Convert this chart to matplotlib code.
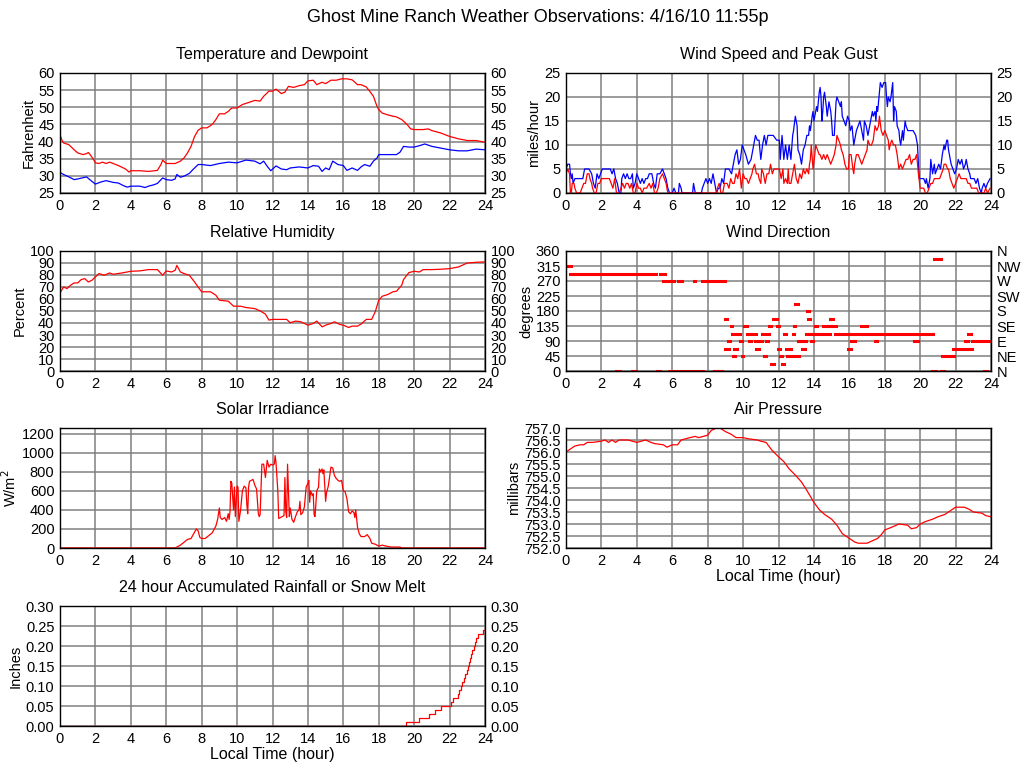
import matplotlib
matplotlib.use('Agg')
import matplotlib.pyplot as plt
import numpy as np

plt.rcParams['font.family'] = ['Liberation Sans', 'DejaVu Sans']
plt.rcParams['font.size'] = 10.5

# ---------------- data ----------------
temp_h = [0.0, 0.1, 0.2, 0.5, 0.8, 1.0, 1.3, 1.5, 1.6, 1.7, 1.9, 2.0, 2.2, 2.4, 2.6, 2.8, 3.0, 3.3,
          3.5, 3.7, 3.9, 4.0, 4.5, 5.0, 5.5, 5.7, 5.8, 6.0, 6.5, 6.8, 7.0, 7.2, 7.4, 7.6, 7.8, 8.0,
          8.3, 8.6, 8.8, 9.0, 9.3, 9.5, 9.7, 10.0, 10.3, 10.6, 11.0, 11.3, 11.5, 11.8, 12.0, 12.2,
          12.5, 12.7, 12.9, 13.2, 13.5, 13.8, 14.0, 14.3, 14.5, 14.8, 15.0, 15.3, 15.6, 15.9, 16.2,
          16.5, 16.8, 17.0, 17.3, 17.5, 17.7, 17.9, 18.0, 18.2, 18.5, 18.8, 19.0, 19.3, 19.6, 19.8,
          20.0, 20.5, 20.8, 21.0, 21.5, 22.0, 22.5, 23.0, 23.5, 24.0]
temp_f = [42.0, 40.5, 39.6, 39.1, 37.6, 36.7, 36.2, 36.5, 36.8, 36.2, 34.7, 33.8, 33.6, 34.0, 33.6,
          34.0, 33.6, 33.0, 32.5, 32.0, 31.1, 31.5, 31.5, 31.3, 31.6, 33.3, 34.6, 33.6, 33.6, 34.3,
          35.2, 36.7, 38.6, 41.5, 43.3, 44.0, 44.0, 45.0, 46.4, 48.1, 48.1, 48.8, 49.8, 49.8, 50.8,
          51.3, 52.0, 51.8, 53.2, 54.7, 54.7, 55.3, 54.0, 54.4, 56.1, 55.8, 56.3, 56.6, 57.7, 57.9,
          56.6, 57.3, 56.9, 57.9, 57.9, 58.3, 58.3, 58.0, 56.6, 56.6, 55.9, 54.6, 53.2, 50.3, 49.3,
          48.3, 47.8, 47.4, 47.2, 46.4, 45.0, 43.7, 43.5, 43.5, 43.7, 43.2, 42.5, 41.5, 40.8, 40.3,
          40.3, 39.8]

dew_h = [0.0, 0.2, 0.5, 0.8, 1.0, 1.5, 1.8, 2.0, 2.3, 2.6, 3.0, 3.3, 3.6, 3.8, 4.0, 4.5, 4.8, 5.0,
         5.3, 5.5, 5.8, 6.0, 6.3, 6.5, 6.6, 6.8, 7.0, 7.3, 7.5, 7.8, 8.0, 8.5, 9.0, 9.5, 10.0, 10.5,
         11.0, 11.3, 11.5, 11.7, 11.9, 12.2, 12.5, 12.8, 13.0, 13.5, 14.0, 14.3, 14.6, 14.8, 15.0,
         15.2, 15.4, 15.7, 16.0, 16.2, 16.5, 16.8, 17.0, 17.2, 17.5, 17.7, 17.9, 18.0, 18.5, 19.0,
         19.2, 19.4, 19.7, 20.0, 20.3, 20.6, 21.0, 21.5, 22.0, 22.5, 23.0, 23.5, 24.0]
dew_f = [31.0, 30.4, 29.7, 28.9, 29.1, 29.7, 28.4, 27.6, 28.2, 28.6, 28.1, 27.9, 27.1, 26.7, 27.0,
         27.0, 26.6, 27.0, 27.4, 27.8, 29.4, 28.9, 28.7, 29.1, 30.4, 29.6, 29.9, 30.7, 31.8, 33.3,
         33.3, 33.0, 33.6, 34.0, 33.8, 34.6, 34.3, 33.5, 34.3, 32.8, 31.5, 32.9, 32.0, 31.8, 32.3,
         32.6, 32.3, 33.0, 32.8, 31.3, 32.3, 31.8, 34.3, 33.3, 33.0, 31.6, 32.3, 31.6, 32.6, 33.3,
         32.8, 34.3, 35.2, 36.2, 36.2, 36.2, 36.9, 38.6, 38.4, 38.4, 38.8, 39.3, 38.6, 38.1, 37.6,
         37.3, 37.3, 37.8, 37.6]

gust_h = [0.0, 0.1, 0.2, 0.25, 0.3, 0.35, 0.4, 0.5, 0.6, 0.8, 0.95, 1.05, 1.3, 1.45, 1.55, 1.65,
          1.75, 1.85, 1.95, 2.05, 2.3, 2.5, 2.6, 2.7, 2.8, 2.9, 3.0, 3.1, 3.15, 3.25, 3.35, 3.45,
          3.55, 3.65, 3.75, 3.8, 3.9, 4.0, 4.1, 4.2, 4.3, 4.4, 4.5, 4.6, 4.7, 4.85, 4.95, 5.05,
          5.15, 5.3, 5.45, 5.55, 5.65, 5.75, 5.85, 6.0, 6.1, 6.2, 6.35, 6.4, 6.5, 6.55, 7.15, 7.2,
          7.3, 7.65, 7.7, 7.8, 7.9, 8.0, 8.1, 8.2, 8.3, 8.4, 8.5, 8.6, 8.7, 8.8, 8.9, 9.0, 9.2,
          9.35, 9.45, 9.55, 9.65, 9.75, 9.85, 9.95, 10.05, 10.15, 10.3, 10.45, 10.55, 10.7, 10.8,
          10.9, 11.0, 11.1, 11.2, 11.3, 11.4, 11.5, 11.7, 11.9, 12.05, 12.1, 12.2, 12.3, 12.4,
          12.5, 12.6, 12.7, 12.8, 12.85, 12.95, 13.05, 13.1, 13.2, 13.3, 13.4, 13.5, 13.6, 13.7,
          13.75, 13.8, 13.9, 13.95, 14.0, 14.1, 14.15, 14.2, 14.3, 14.35, 14.4, 14.45, 14.5, 14.55,
          14.6, 14.7, 14.75, 14.85, 14.95, 15.0, 15.05, 15.15, 15.25, 15.3, 15.4, 15.5, 15.55,
          15.6, 15.7, 15.8, 15.9, 16.0, 16.05, 16.15, 16.25, 16.3, 16.4, 16.5, 16.6, 16.7, 16.8,
          16.85, 16.95, 17.05, 17.15, 17.3, 17.35, 17.45, 17.5, 17.55, 17.6, 17.7, 17.75, 17.85,
          17.95, 18.05, 18.1, 18.15, 18.2, 18.3, 18.35, 18.45, 18.5, 18.55, 18.65, 18.7, 18.8,
          18.85, 18.9, 19.0, 19.05, 19.15, 19.2, 19.3, 19.45, 19.6, 19.75, 19.85, 19.9, 19.95,
          20.05, 20.2, 20.3, 20.35, 20.45, 20.55, 20.6, 20.7, 20.8, 20.85, 20.95, 21.05, 21.15,
          21.25, 21.35, 21.4, 21.5, 21.55, 21.6, 21.7, 21.75, 21.85, 21.95, 22.05, 22.15, 22.25,
          22.35, 22.45, 22.55, 22.6, 22.7, 22.8, 22.85, 22.95, 23.05, 23.15, 23.25, 23.35, 23.45,
          23.5, 23.6, 23.7, 23.8, 23.95]
gust_mph = [5, 6, 6, 4, 3, 4, 2, 3, 3, 3, 3, 5, 5, 4, 2, 1, 4, 3, 4, 5, 5, 5, 4, 5, 3, 2, 0, 0,
            3, 4, 3, 4, 3, 3, 4, 1, 2, 4, 3, 2, 3, 2, 3, 3, 4, 4, 2, 1, 4, 4, 5, 4, 3, 1, 0, 0, 1,
            0, 0, 2, 1, 0, 0, 2, 0, 0, 1, 2, 3, 2, 3, 2, 4, 2, 0, 1, 1, 3, 2, 5, 5, 4, 6, 8, 9, 6,
            7, 10, 9, 8, 6, 7, 9, 12, 11, 11, 7, 10, 12, 10, 12, 12, 12, 11, 11, 7, 12, 7, 10, 7,
            10, 7, 12, 13, 16, 14, 9, 8, 6, 9, 10, 12, 12, 14, 13, 16, 17, 15, 17, 18, 17, 21, 22,
            20, 15, 17, 20, 21, 18, 16, 19, 17, 15, 12, 12, 19, 20, 19, 18, 19, 16, 15, 14, 16, 15,
            13, 14, 10, 11, 13, 14, 15, 13, 11, 15, 14, 12, 14, 17, 16, 17, 15, 18, 17, 21, 23, 22,
            23, 23, 20, 18, 20, 19, 20, 23, 15, 18, 17, 14, 13, 11, 10, 13, 11, 15, 14, 13, 13, 13,
            12, 10, 6, 3, 3, 3, 2, 3, 1, 3, 7, 4, 6, 4, 5, 6, 5, 8, 10, 9, 11, 11, 9, 7, 6, 5, 4,
            5, 7, 6, 7, 5, 6, 7, 5, 4, 3, 3, 3, 2, 3, 1, 0, 1, 2, 1, 2, 3]

speed_h = [0.0, 0.1, 0.2, 0.25, 0.3, 0.35, 0.45, 0.5, 0.6, 0.8, 0.9, 1.0, 1.1, 1.2, 1.3, 1.35,
           1.45, 1.5, 1.6, 1.7, 1.8, 1.9, 2.0, 2.2, 2.45, 2.55, 2.65, 2.75, 2.85, 3.0, 3.1, 3.2,
           3.3, 3.4, 3.5, 3.6, 3.7, 3.8, 3.9, 4.0, 4.1, 4.2, 4.3, 4.4, 4.55, 4.7, 4.8, 4.9, 5.0,
           5.1, 5.2, 5.3, 5.45, 5.55, 5.65, 5.75, 8.5, 8.55, 8.65, 8.75, 8.85, 8.95, 9.1, 9.2,
           9.3, 9.4, 9.5, 9.6, 9.7, 9.8, 9.85, 9.9, 10.0, 10.1, 10.2, 10.3, 10.4, 10.5, 10.55,
           10.65, 10.75, 10.85, 10.9, 11.0, 11.05, 11.15, 11.25, 11.35, 11.45, 11.55, 11.65, 11.75,
           11.85, 12.0, 12.05, 12.15, 12.25, 12.3, 12.4, 12.5, 12.55, 12.6, 12.7, 12.75, 12.8,
           12.9, 13.0, 13.1, 13.2, 13.3, 13.4, 13.5, 13.6, 13.7, 13.75, 13.8, 13.85, 13.95, 14.05,
           14.1, 14.2, 14.3, 14.35, 14.45, 14.55, 14.65, 14.75, 14.85, 14.95, 15.05, 15.15, 15.25,
           15.3, 15.4, 15.5, 15.55, 15.65, 15.75, 15.85, 15.95, 16.0, 16.1, 16.2, 16.25, 16.3,
           16.4, 16.5, 16.6, 16.7, 16.8, 16.9, 17.0, 17.05, 17.15, 17.25, 17.35, 17.45, 17.55,
           17.65, 17.7, 17.8, 17.9, 18.0, 18.1, 18.2, 18.25, 18.3, 18.4, 18.5, 18.6, 18.7, 18.8,
           18.9, 19.0, 19.1, 19.2, 19.3, 19.4, 19.5, 19.6, 19.7, 19.8, 19.85, 19.9, 20.0, 20.1,
           20.2, 20.3, 20.4, 20.5, 20.6, 20.7, 20.8, 20.9, 21.0, 21.1, 21.2, 21.3, 21.35, 21.45,
           21.55, 21.6, 21.7, 21.8, 21.9, 22.0, 22.1, 22.2, 22.3, 22.4, 22.5, 22.6, 22.7, 22.8,
           22.9, 23.0, 23.1, 23.2, 23.3, 23.5, 23.6, 23.7, 23.8, 23.95]
speed_mph = [4, 5, 4, 0, 0, 2, 2, 1, 0, 0, 1, 2, 2, 4, 4, 3, 2, 1, 0, 0, 2, 2, 3, 3, 3, 2, 1, 3,
             0, 0, 1, 2, 1, 2, 2, 1, 2, 0, 0, 2, 1, 1, 0, 1, 1, 2, 1, 2, 0, 0, 1, 3, 4, 3, 2, 0,
             0, 1, 2, 0, 0, 2, 2, 1, 3, 2, 2, 4, 3, 5, 3, 1, 4, 3, 3, 2, 3, 4, 5, 6, 4, 4, 3, 2,
             5, 4, 2, 4, 4, 6, 4, 5, 5, 5, 5, 3, 5, 2, 3, 2, 5, 2, 2, 3, 4, 6, 3, 2, 4, 3, 5, 4,
             5, 4, 6, 7, 10, 5, 8, 10, 9, 8, 8, 7, 8, 7, 8, 7, 6, 7, 8, 10, 12, 11, 10, 9, 8, 6,
             5, 5, 8, 8, 5, 4, 6, 8, 8, 7, 6, 7, 8, 9, 11, 10, 10, 11, 14, 13, 14, 16, 13, 12, 13,
             12, 11, 9, 10, 11, 10, 10, 8, 5, 6, 5, 6, 7, 7, 8, 6, 7, 7, 8, 6, 4, 1, 1, 1, 0, 0,
             1, 2, 2, 3, 3, 3, 3, 4, 5, 6, 6, 5, 5, 3, 2, 1, 2, 3, 4, 3, 3, 3, 3, 2, 2, 1, 1, 1,
             1, 0, 0, 0, 1, 0, 1]

rh_h = [0.0, 0.2, 0.4, 0.6, 0.8, 1.0, 1.2, 1.4, 1.6, 1.8, 2.0, 2.2, 2.5, 2.8, 3.0, 3.5, 4.0, 4.5,
        5.0, 5.5, 5.8, 6.0, 6.3, 6.5, 6.6, 6.8, 7.0, 7.3, 7.6, 7.8, 8.0, 8.5, 8.8, 9.0, 9.5, 9.8,
        10.2, 10.5, 11.0, 11.3, 11.6, 11.8, 12.0, 12.5, 12.8, 13.0, 13.3, 13.6, 14.0, 14.3, 14.5,
        14.8, 15.0, 15.3, 15.5, 15.8, 16.0, 16.3, 16.5, 16.8, 17.0, 17.3, 17.6, 17.8, 18.0, 18.2,
        18.5, 18.8, 19.0, 19.3, 19.4, 19.7, 20.0, 20.3, 20.5, 21.0, 21.5, 22.0, 22.5, 23.0, 23.5,
        24.0]
rh_pct = [65, 70, 68.7, 71.5, 73.4, 73.4, 76.2, 77, 74.2, 75.6, 78.4, 81.2, 79.8, 81.7, 80.6,
          81.7, 83.1, 83.4, 84.5, 84.5, 79.8, 83.4, 82.5, 83.9, 88, 82.5, 81.2, 79.8, 74.2, 70,
          66, 66, 63.2, 59, 58.2, 54, 54, 52.9, 52, 50.1, 47.4, 42.4, 43, 43, 43, 40.2, 41.6, 41,
          38.2, 39.6, 41.6, 36.8, 38.2, 39.6, 41, 38.8, 38.2, 36.3, 37.4, 37.4, 39.1, 43, 43,
          49.3, 59, 62.3, 63.7, 66, 66.5, 71.5, 76.2, 82, 83.1, 82.5, 84.5, 84.5, 84.8, 85.3,
          86.7, 90, 90.6, 90.9]

dir_start = [0.0, 0.22, 3.05, 5.3, 5.5, 5.96, 6.3, 7.2, 7.7, 8.6, 2.8, 3.74, 5.13, 5.8, 6.52,
             8.36, 8.68, 20.65, 21.15, 23.6, 8.96, 9.0, 9.15, 9.3, 9.35, 9.45, 9.5, 9.65, 9.85,
             9.95, 10.05, 10.2, 10.35, 10.5, 10.75, 10.7, 11.05, 11.2, 11.3, 11.35, 11.45, 11.55,
             11.7, 11.9, 11.95, 12.1, 12.2, 12.3, 12.4, 12.45, 12.5, 12.8, 12.85, 12.95, 13.0,
             13.1, 13.35, 13.45, 13.55, 13.6, 13.65, 13.8, 13.85, 13.95, 14.05, 14.2, 14.5, 14.9,
             14.95, 15.2, 15.95, 16.1, 16.65, 16.95, 17.45, 19.65, 19.8, 20.8, 21.25, 21.85,
             22.55, 22.7, 22.75, 22.9]
dir_end = [0.26, 2.86, 5.1, 5.6, 5.8, 6.1, 6.55, 7.3, 8.4, 8.97, 3.05, 3.93, 5.32, 6.33, 7.74,
           8.59, 8.82, 20.9, 21.33, 23.78, 9.1, 9.2, 9.25, 9.4, 9.5, 9.55, 9.65, 9.85, 9.95, 10.0,
           10.2, 10.4, 10.45, 10.75, 10.9, 11.05, 11.2, 11.3, 11.4, 11.45, 11.55, 11.75, 11.9,
           12.0, 12.1, 12.2, 12.3, 12.4, 12.45, 12.7, 12.8, 12.9, 12.95, 13.1, 13.15, 13.4, 13.5,
           13.55, 13.65, 13.7, 13.8, 13.95, 13.95, 14.05, 14.2, 14.9, 14.95, 15.05, 15.25, 16.75,
           16.1, 16.3, 17.0, 19.7, 17.55, 19.9, 20.7, 21.2, 21.9, 22.6, 22.7, 22.85, 22.9, 24.0]
dir_deg = [315, 292.5, 292.5, 292.5, 270, 270, 270, 270, 270, 270, 0, 0, 0, 0, 0, 0, 0, 0, 0, 0,
           157.5, 67.5, 90, 135, 112.5, 45, 67.5, 112.5, 90, 45, 135, 112.5, 90, 112.5, 67.5, 90,
           112.5, 45, 90, 112.5, 135, 22.5, 157.5, 135, 67.5, 45, 22.5, 112.5, 90, 67.5, 45,
           112.5, 135, 202.5, 45, 90, 67.5, 90, 112.5, 180, 157.5, 112.5, 90, 112.5, 135, 112.5,
           135, 157.5, 135, 112.5, 67.5, 90, 135, 112.5, 90, 90, 112.5, 337.5, 45, 67.5, 90,
           112.5, 67.5, 90]

solar_h = [0.0, 6.5, 6.6, 6.8, 7.0, 7.2, 7.4, 7.55, 7.7, 7.8, 7.9, 8.0, 8.2, 8.4, 8.6, 8.8, 8.9,
           9.0, 9.05, 9.15, 9.3, 9.4, 9.5, 9.55, 9.6, 9.65, 9.7, 9.8, 9.85, 9.9, 10.0, 10.05, 10.1,
           10.2, 10.3, 10.4, 10.5, 10.55, 10.6, 10.65, 10.7, 10.8, 10.9, 11.0, 11.1, 11.2, 11.25,
           11.3, 11.4, 11.5, 11.6, 11.7, 11.8, 11.9, 12.0, 12.1, 12.15, 12.2, 12.3, 12.35, 12.45,
           12.55, 12.65, 12.7, 12.75, 12.8, 12.85, 12.9, 12.95, 13.0, 13.1, 13.2, 13.3, 13.4, 13.5,
           13.55, 13.6, 13.7, 13.8, 13.9, 14.0, 14.05, 14.1, 14.15, 14.25, 14.3, 14.35, 14.4, 14.5,
           14.6, 14.65, 14.7, 14.8, 14.85, 14.9, 15.0, 15.05, 15.15, 15.3, 15.4, 15.5, 15.6, 15.7,
           15.8, 15.9, 16.0, 16.1, 16.2, 16.3, 16.4, 16.5, 16.6, 16.65, 16.7, 16.75, 16.8, 16.9,
           17.0, 17.2, 17.35, 17.5, 17.6, 17.8, 18.0, 18.2, 18.4, 18.7, 19.2, 19.3, 24.0]
solar_w = [0, 0, 10, 30, 60, 90, 100, 150, 200, 180, 110, 100, 100, 130, 160, 230, 300, 420, 320,
           300, 320, 280, 360, 300, 380, 700, 680, 400, 640, 330, 650, 640, 280, 400, 600, 650,
           630, 460, 360, 640, 700, 710, 720, 660, 620, 360, 330, 350, 880, 880, 740, 920, 850,
           880, 870, 880, 970, 890, 600, 310, 320, 330, 340, 740, 380, 320, 880, 600, 330, 420,
           300, 270, 330, 380, 400, 490, 350, 370, 430, 640, 680, 710, 480, 600, 550, 570, 350,
           330, 600, 640, 830, 800, 830, 780, 820, 490, 580, 650, 850, 840, 760, 730, 710, 700,
           710, 600, 590, 520, 380, 360, 390, 370, 320, 400, 310, 220, 150, 120, 120, 140, 100, 50,
           40, 20, 30, 20, 10, 10, 0, 0]

pres_h = [0.0, 0.2, 0.4, 0.5, 0.8, 1.0, 1.2, 1.5, 2.0, 2.2, 2.4, 2.6, 2.8, 3.0, 3.5, 4.0, 4.5, 4.8,
          5.0, 5.5, 5.7, 6.0, 6.3, 6.5, 7.0, 7.3, 7.5, 8.0, 8.2, 8.5, 8.7, 9.0, 9.3, 9.6, 10.0, 10.3,
          10.8, 11.0, 11.3, 11.6, 12.0, 12.3, 12.6, 13.0, 13.3, 13.6, 14.0, 14.3, 14.6, 15.0, 15.3,
          15.6, 16.0, 16.3, 16.5, 17.0, 17.3, 17.6, 17.8, 18.0, 18.5, 18.8, 19.3, 19.5, 19.8, 20.0,
          20.3, 20.7, 21.0, 21.4, 21.7, 22.0, 22.5, 22.8, 23.0, 23.5, 23.7, 24.0]
pres_mb = [756.0, 756.1, 756.2, 756.25, 756.3, 756.3, 756.4, 756.4, 756.45, 756.5, 756.4, 756.5,
           756.4, 756.5, 756.5, 756.4, 756.5, 756.4, 756.35, 756.3, 756.2, 756.3, 756.3, 756.5,
           756.6, 756.65, 756.6, 756.7, 756.9, 757.0, 757.0, 756.85, 756.75, 756.6, 756.6, 756.55,
           756.5, 756.45, 756.4, 756.1, 755.8, 755.6, 755.3, 755.0, 754.75, 754.4, 753.9, 753.6,
           753.4, 753.2, 752.95, 752.6, 752.4, 752.25, 752.2, 752.2, 752.3, 752.4, 752.55, 752.75,
           752.9, 753.0, 752.95, 752.8, 752.85, 753.0, 753.1, 753.2, 753.3, 753.4, 753.55, 753.7,
           753.7, 753.6, 753.5, 753.45, 753.35, 753.3]

rain_h = [0.0, 19.55, 20.3, 20.85, 21.15, 21.5, 22.08, 22.22, 22.45, 22.52, 22.62, 22.72, 22.8,
          22.88, 22.96, 23.03, 23.1, 23.16, 23.22, 23.28, 23.36, 23.44, 23.52, 23.62, 23.9, 24.0]
rain_in = [0.0, 0.01, 0.02, 0.03, 0.04, 0.05, 0.06, 0.07, 0.08, 0.09, 0.10, 0.11, 0.12, 0.13,
           0.14, 0.15, 0.16, 0.17, 0.18, 0.19, 0.20, 0.21, 0.22, 0.23, 0.24, 0.24]

hour_ticks = list(range(0, 25, 2))
compass = ['N', 'NE', 'E', 'SE', 'S', 'SW', 'W', 'NW', 'N']

# ---------------- figure ----------------
fig = plt.figure(figsize=(10.24, 7.68), dpi=100)
fig.text(538 / 1024, 1 - 18 / 768, 'Ghost Mine Ranch Weather Observations: 4/16/10 11:55p',
         ha='center', va='center', fontsize=13)


def panel(left, bottom, title, ylabel, ymax, yticks, fmt='%g', right=True, xlabel=False, ymin=0):
    ax = fig.add_axes([left / 1024, 1 - bottom / 768, 425 / 1024, 120 / 768])
    ax.set_xlim(0, 24)
    ax.set_ylim(ymin, ymax)
    ax.set_xticks(hour_ticks)
    ax.set_yticks(yticks)
    ax.set_yticklabels([fmt % v for v in yticks])
    ax.grid(True, color='#808080', linewidth=1.1)
    ax.set_axisbelow(True)
    ax.tick_params(length=0, pad=4, labelsize=10.5, labelright=right)
    for s in ax.spines.values():
        s.set_linewidth(1.0)
    ax.set_title(title, fontsize=11.5, pad=10)
    ax.set_ylabel(ylabel, fontsize=10.5, labelpad=2)
    if xlabel:
        ax.set_xlabel('Local Time (hour)', fontsize=11.5, labelpad=1)
    return ax


lw = 0.9
ax = panel(60, 193, 'Temperature and Dewpoint', 'Fahrenheit', 60, list(range(25, 61, 5)), ymin=25)
ax.plot(temp_h, temp_f, color='red', lw=lw)
ax.plot(dew_h, dew_f, color='blue', lw=lw)

ax = panel(566, 193, 'Wind Speed and Peak Gust', 'miles/hour', 25, list(range(0, 26, 5)))
ax.plot(gust_h, gust_mph, color='blue', lw=lw)
ax.plot(speed_h, speed_mph, color='red', lw=lw)

ax = panel(60, 371, 'Relative Humidity', 'Percent', 100, list(range(0, 101, 10)))
ax.plot(rh_h, rh_pct, color='red', lw=lw)

ax = panel(566, 371, 'Wind Direction', 'degrees', 360, list(range(0, 361, 45)), right=False)
ax.hlines(dir_deg, dir_start, dir_end, color='red', lw=2.2, capstyle='projecting')
ax2 = ax.twinx()
ax2.set_ylim(0, 360)
ax2.set_yticks(list(range(0, 361, 45)))
ax2.set_yticklabels(compass)
ax2.tick_params(length=0, pad=4, labelsize=10.5)

ax = panel(60, 548, 'Solar Irradiance', 'W/m$^2$', 1260, list(range(0, 1201, 200)), right=False)
ax.plot(solar_h, solar_w, color='red', lw=lw)

ax = panel(566, 548, 'Air Pressure', 'millibars', 757, list(np.arange(752, 757.01, 0.5)),
           fmt='%.1f', right=False, xlabel=True, ymin=752)
ax.plot(pres_h, pres_mb, color='red', lw=lw)

ax = panel(60, 726, '24 hour Accumulated Rainfall or Snow Melt', 'Inches', 0.30,
           list(np.arange(0, 0.301, 0.05)), fmt='%.2f', xlabel=True)
ax.plot(rain_h, rain_in, color='red', lw=lw, drawstyle='steps-post')

fig.savefig('out.png', dpi=100)
